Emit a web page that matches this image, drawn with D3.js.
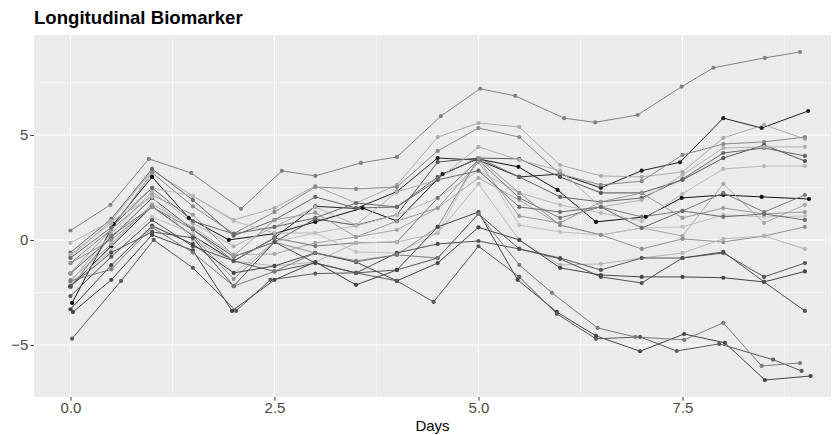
<!DOCTYPE html>
<html>
<head>
<meta charset="utf-8">
<script src="https://cdn.jsdelivr.net/npm/d3@7"></script>
<style>
  body { margin: 0; background: #fff; }
  svg { display: block; font-family: "Liberation Sans", Arial, Helvetica, sans-serif; }
</style>
</head>
<body>
<svg id="chart" width="837" height="435"></svg>
<script>
// Scheduled visit times (days)
const days = [0, 0.5, 1, 1.5, 2, 2.5, 3, 3.5, 4, 4.5, 5, 5.5, 6, 6.5, 7, 7.5, 8, 8.5, 9];

// Actual visit times where a subject deviated from the schedule
const tS01 = [0.0, 0.49, 0.96, 1.48, 2.09, 2.59, 3.0, 3.56, 4.0, 4.54, 5.02, 5.45, 6.05, 6.43, 6.95, 7.49, 7.88, 8.51, 8.94];
const tS02 = [0.0, 0.5, 1.0, 1.5, 2.0, 2.5, 3.0, 3.5, 4.0, 4.5, 5.0, 5.5, 6.0, 6.5, 7.0, 7.47, 8.0, 8.47, 9.04];
const tS03 = [0.02, 0.53, 1.0, 1.45, 1.94, 2.5, 3.0, 3.58, 4.0, 4.56, 4.99, 5.49, 5.97, 6.44, 7.05, 7.49, 8.0, 8.47, 9.05];
const tS20 = [0.03, 0.5, 1.0, 1.5, 1.98, 2.5, 3.0, 3.5, 4.0, 4.5, 5.0, 5.48, 5.96, 6.44, 6.98, 7.52, 8.02, 8.51, 9.07];
const tS21 = [0.02, 0.62, 1.02, 1.5, 2.03, 2.45, 3.0, 3.5, 4.0, 4.45, 5.0, 5.5, 5.96, 6.44, 6.98, 7.43, 7.95, 8.61, 8.96];
const tS22 = [0.0, 0.5, 1.0, 1.5, 2.0, 2.5, 3.0, 3.5, 4.0, 4.5, 5.0, 5.5, 5.9, 6.46, 6.92, 7.52, 8.0, 8.47, 8.94];

// Biomarker value per subject at each visit
const s01 = [0.45, 1.67, 3.86, 3.19, 1.48, 3.29, 3.05, 3.67, 3.95, 5.9, 7.2, 6.86, 5.8, 5.6, 5.95, 7.3, 8.2, 8.67, 8.95];
const s02 = [-2.2, -0.3, 1.6, 0.2, -1.0, 0.1, 1.6, 1.5, 2.3, 3.9, 3.8, 3.0, 3.14, 2.48, 3.3, 3.7, 5.8, 5.33, 6.14];
const s03 = [-3.0, 0.76, 3.0, 1.05, 0.0, 0.3, 0.86, 1.52, 0.9, 3.14, 3.86, 3.48, 2.38, 0.86, 1.1, 2.0, 2.14, 2.05, 1.95];
const s04 = [-0.8, 0.9, 3.3, 2.1, 0.95, 1.52, 2.57, 1.76, 2.62, 4.9, 5.57, 5.38, 3.57, 3.05, 3.0, 3.24, 4.86, 5.48, 4.81];
const s05 = [-1.1, 0.5, 3.2, 1.6, 0.3, 1.33, 2.52, 2.43, 2.52, 4.24, 5.33, 4.9, 3.14, 2.62, 2.8, 4.05, 4.57, 4.67, 4.9];
const s06 = [-1.6, 0.1, 2.0, 0.5, -0.8, -0.1, 1.0, 0.7, 1.2, 3.71, 3.9, 3.86, 3.0, 2.24, 2.24, 2.86, 3.9, 4.52, 3.76];
const s07 = [-0.6, 1.0, 3.38, 1.9, 0.2, 0.95, 2.05, 1.52, 1.57, 3.0, 3.9, 3.0, 2.05, 1.81, 2.0, 2.9, 4.14, 4.38, 4.0];
const s08 = [-2.0, 0.3, 2.3, 0.8, -0.3, 0.62, 1.57, 0.71, 2.29, 2.86, 4.43, 3.81, 3.3, 1.57, 1.9, 3.1, 4.38, 4.43, 4.43];
const s09 = [-0.7, 0.8, 2.48, 2.1, 0.9, 0.33, 0.33, 0.67, 1.19, 2.0, 3.3, 2.24, 1.67, 1.29, 0.9, 2.2, 3.38, 3.52, 3.52];
const s10 = [-1.9, -0.2, 1.7, 0.6, -0.7, -0.67, -0.14, 0.14, 0.48, 1.52, 2.95, 1.9, 0.71, 0.24, 0.57, 0.19, 2.67, 0.81, 1.67];
const s11 = [-2.25, 0.2, 1.57, 0.5, -1.0, 0.1, -0.29, -0.14, -0.1, 2.0, 3.8, 2.0, 1.05, 1.57, 1.1, 1.38, 2.24, 1.33, 2.14];
const s12 = [-1.57, 0.5, 2.14, 1.2, -0.76, 0.95, 1.3, 0.14, 0.9, 1.52, 3.7, 1.14, 0.81, 1.81, 2.24, 1.05, 1.52, 1.24, 1.33];
const s13 = [-2.05, -0.5, 1.1, 0.3, -1.57, -0.1, 0.33, -0.57, -0.62, 0.33, 3.9, 0.71, 0.38, 0.24, 0.57, 0.62, 1.19, 1.1, 1.14];
const s14 = [-0.86, 0.6, 2.48, 0.9, 0.29, 0.62, 1.05, 1.76, 1.57, 2.86, 3.3, 1.57, 1.33, 1.57, 0.57, 1.38, 1.1, 1.24, 0.95];
const s15 = [-1.1, 0.0, 1.57, 0.2, -1.86, -0.1, -0.62, -1.05, -0.71, 0.62, 3.9, 2.24, 0.71, 0.24, -0.43, 0.05, -0.1, 0.19, 0.62];
const s16 = [-0.14, 0.9, 2.05, 0.0, -1.0, -1.24, -1.05, -0.14, -0.1, 0.33, 2.67, 0.0, -1.19, -1.14, -0.86, -0.62, 0.05, 0.19, -0.43];
const s17 = [-2.67, -0.8, 0.95, -0.3, -1.0, -1.5, -1.1, -1.57, -1.43, -0.86, 1.24, -0.43, -0.86, -1.43, -0.86, -0.86, -0.62, -1.76, -1.1];
const s18 = [-3.3, -1.2, 0.67, -0.2, -1.57, -1.24, -0.62, -1.05, -1.95, -1.1, 0.6, 0.0, -1.33, -1.67, -1.76, -1.76, -1.8, -2.0, -1.5];
const s19 = [-2.2, -0.6, 0.38, 0.1, -2.2, -0.1, -1.1, -1.57, -0.62, -0.19, -0.05, -0.43, -0.9, -1.76, -2.05, -0.86, -0.57, -2.0, -3.38];
const s20 = [-3.43, -1.9, 0.24, -0.5, -3.38, -1.9, -1.05, -2.14, -1.43, 0.62, 1.33, -1.9, -3.43, -4.57, -5.3, -4.48, -4.9, -6.67, -6.48];
const s21 = [-4.7, -1.95, 0.0, -1.33, -3.38, -1.9, -1.6, -1.57, -1.95, -2.95, -0.3, -1.76, -3.52, -4.71, -4.62, -5.29, -4.95, -5.7, -6.24];
const s22 = [-1.95, -1.4, 0.6, -0.6, -2.2, -1.5, -0.62, -1.0, -0.71, -0.86, 1.24, -1.19, -2.52, -4.19, -4.62, -4.76, -3.95, -6.0, -5.86];

// Grey shade of each subject's trace
const shades = ["#808080", "#222222", "#111111", "#ababab", "#888888", "#555555", "#666666", "#b0b0b0",
                "#b8b8b8", "#a8a8a8", "#777777", "#999999", "#c0c0c0", "#6a6a6a", "#909090", "#b5b5b5",
                "#555555", "#444444", "#505050", "#444444", "#5a5a5a", "#7a7a7a"];

const xTicks = [0, 2.5, 5, 7.5];
const yTicks = [-5, 0, 5];

const values = [s01, s02, s03, s04, s05, s06, s07, s08, s09, s10, s11, s12, s13, s14, s15, s16, s17, s18, s19, s20, s21, s22];
const times = [tS01, tS02, tS03, days, days, days, days, days, days, days, days, days, days, days, days, days, days, days, days, tS20, tS21, tS22];

const subjects = values.map((vals, i) => ({
  color: shades[i],
  pts: vals.map((v, j) => ({ t: times[i][j], v }))
}));

const svg = d3.select("#chart");
const panel = { left: 34, right: 831, top: 35, bottom: 397 };

const x = d3.scaleLinear().domain([-0.447, 9.32]).range([panel.left, panel.right]);
const y = d3.scaleLinear().domain([-7.48, 9.76]).range([panel.bottom, panel.top]);

// panel background
svg.append("rect")
  .attr("x", panel.left).attr("y", panel.top)
  .attr("width", panel.right - panel.left).attr("height", panel.bottom - panel.top)
  .attr("fill", "#EBEBEB");

// minor grid
const g = svg.append("g");
const xMinor = [1.25, 3.75, 6.25, 8.75];
const yMinor = [-2.5, 2.5, 7.5];
g.selectAll(".xminor").data(xMinor).join("line")
  .attr("x1", d => x(d)).attr("x2", d => x(d)).attr("y1", panel.top).attr("y2", panel.bottom)
  .attr("stroke", "#fff").attr("stroke-width", 0.55);
g.selectAll(".yminor").data(yMinor).join("line")
  .attr("y1", d => y(d)).attr("y2", d => y(d)).attr("x1", panel.left).attr("x2", panel.right)
  .attr("stroke", "#fff").attr("stroke-width", 0.55);
// major grid
g.selectAll(".xmajor").data(xTicks).join("line")
  .attr("x1", d => x(d)).attr("x2", d => x(d)).attr("y1", panel.top).attr("y2", panel.bottom)
  .attr("stroke", "#fff").attr("stroke-width", 1.1);
g.selectAll(".ymajor").data(yTicks).join("line")
  .attr("y1", d => y(d)).attr("y2", d => y(d)).attr("x1", panel.left).attr("x2", panel.right)
  .attr("stroke", "#fff").attr("stroke-width", 1.1);

// subject traces
const line = d3.line().x(d => x(d.t)).y(d => y(d.v));
svg.append("g").selectAll("path").data(subjects).join("path")
  .attr("d", d => line(d.pts))
  .attr("fill", "none").attr("stroke", d => d.color).attr("stroke-width", 1);

svg.append("g").selectAll("g").data(subjects).join("g")
  .attr("fill", d => d.color)
  .selectAll("circle").data(d => d.pts).join("circle")
  .attr("cx", d => x(d.t)).attr("cy", d => y(d.v)).attr("r", 2.1);

// axes
const fmtY = v => (v < 0 ? "\u2212" + Math.abs(v) : String(v));
const xAxis = svg.append("g").attr("transform", `translate(0,${panel.bottom})`)
  .call(d3.axisBottom(x).tickValues(xTicks).tickFormat(d3.format(".1f")).tickSize(3.7).tickPadding(2));
const yAxis = svg.append("g").attr("transform", `translate(${panel.left},0)`)
  .call(d3.axisLeft(y).tickValues(yTicks).tickFormat(fmtY).tickSize(3.7).tickPadding(2));
[xAxis, yAxis].forEach(a => {
  a.select(".domain").remove();
  a.selectAll(".tick line").attr("stroke", "#333");
  a.selectAll(".tick text").attr("fill", "#4D4D4D").attr("font-size", 15).attr("font-family", "Liberation Sans, Arial, sans-serif");
});

svg.append("text")
  .attr("x", (panel.left + panel.right) / 2).attr("y", 431)
  .attr("text-anchor", "middle").attr("font-size", 15).attr("fill", "#000")
  .text("Days");

svg.append("text")
  .attr("x", 34).attr("y", 24)
  .attr("font-size", 18.6).attr("font-weight", "bold").attr("fill", "#000")
  .text("Longitudinal Biomarker");
</script>
</body>
</html>
